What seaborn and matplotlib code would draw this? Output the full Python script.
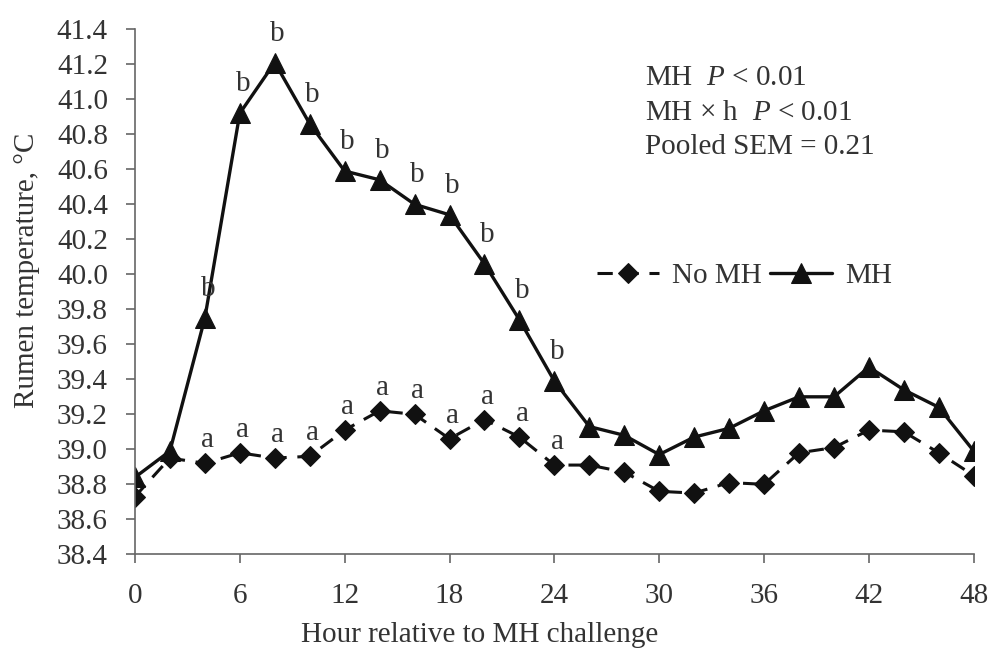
#%%
import matplotlib
matplotlib.use("Agg")
import matplotlib.pyplot as plt
import seaborn as sns

#%%
# values
hours = [0, 2, 4, 6, 8, 10, 12, 14, 16, 18, 20, 22, 24,
         26, 28, 30, 32, 34, 36, 38, 40, 42, 44, 46, 48]
no_mh = [38.73, 38.95, 38.92, 38.98, 38.95, 38.96, 39.11, 39.22, 39.20, 39.06,
         39.17, 39.07, 38.91, 38.91, 38.87, 38.76, 38.75, 38.81, 38.80, 38.98,
         39.01, 39.11, 39.10, 38.98, 38.85]
mh = [38.84, 38.99, 39.75, 40.92, 41.21, 40.86, 40.59, 40.54, 40.40, 40.34,
      40.06, 39.74, 39.39, 39.13, 39.08, 38.97, 39.07, 39.12, 39.22, 39.30,
      39.30, 39.47, 39.34, 39.24, 38.99]
# significance letters (hours 4..24)
sig_hours = [4, 6, 8, 10, 12, 14, 16, 18, 20, 22, 24]
y_ticks = [38.4, 38.6, 38.8, 39.0, 39.2, 39.4, 39.6, 39.8, 40.0,
           40.2, 40.4, 40.6, 40.8, 41.0, 41.2, 41.4]
x_ticks = [0, 6, 12, 18, 24, 30, 36, 42, 48]

#%%
sns.set_style("ticks")
plt.rcParams['font.family'] = ['Liberation Serif', 'DejaVu Serif']
plt.rcParams['mathtext.fontset'] = 'custom'
plt.rcParams['mathtext.rm'] = 'Liberation Serif'
plt.rcParams['mathtext.it'] = 'Liberation Serif:italic'

TXT = "#333333"
LINE = "#111111"
FS = 21

fig = plt.figure(figsize=(9.88, 6.51), dpi=100)
ax = fig.add_axes([0.1366, 0.1485, 0.849, 0.8065])

sns.lineplot(x=hours, y=no_mh, ax=ax, color=LINE, lw=2.2,
             linestyle=(0, (5, 3.5)), marker='D', markersize=10.5,
             markeredgecolor=LINE, markerfacecolor=LINE, label="No MH")
sns.lineplot(x=hours, y=mh, ax=ax, color=LINE, lw=2.4,
             marker='^', markersize=15,
             markeredgecolor=LINE, markerfacecolor=LINE, label="MH")

# letters
for h in sig_hours:
    i = hours.index(h)
    ax.annotate("b", (h, mh[i]), xytext=(3, 29), textcoords='offset pixels',
                ha='center', va='center', fontsize=FS, color=TXT)
    ax.annotate("a", (h, no_mh[i]), xytext=(3, 23), textcoords='offset pixels',
                ha='center', va='center', fontsize=FS, color=TXT)

ax.set_xlim(0, 48)
ax.set_ylim(38.4, 41.4)
ax.set_xticks(x_ticks)
ax.set_yticks(y_ticks)
ax.set_yticklabels([f"{v:.1f}" for v in y_ticks])
ax.tick_params(axis='both', labelsize=FS, colors="#666666", labelcolor=TXT,
               length=6.5, width=1.2)
ax.tick_params(axis='x', pad=14)
ax.tick_params(axis='y', pad=13)
for s in ['top', 'right']:
    ax.spines[s].set_visible(False)
for s in ['left', 'bottom']:
    ax.spines[s].set_color("#666666")
    ax.spines[s].set_linewidth(1.2)

ax.set_xlabel("Hour relative to MH challenge", fontsize=FS, color=TXT)
ax.set_ylabel("Rumen temperature, °C", fontsize=FS, color=TXT)
ax.xaxis.set_label_coords(0.411, -0.128)
ax.yaxis.set_label_coords(-0.113, 0.54)

ax.legend(loc='center', bbox_to_anchor=(0.7536, 0.576),
          bbox_transform=fig.transFigure, ncol=2, frameon=False,
          fontsize=FS, handlelength=2.1, columnspacing=0.3, handletextpad=0.45,
          labelcolor=TXT)

stats = ["MH  $P$ < 0.01", "MH × h  $P$ < 0.01", "Pooled SEM = 0.21"]
for k, line in enumerate(stats):
    fig.text(645 / 988, 1 - (78 + 34.5 * k) / 651, line, fontsize=FS,
             color=TXT, ha='left', va='center')

fig.savefig("out.png", dpi=100)
